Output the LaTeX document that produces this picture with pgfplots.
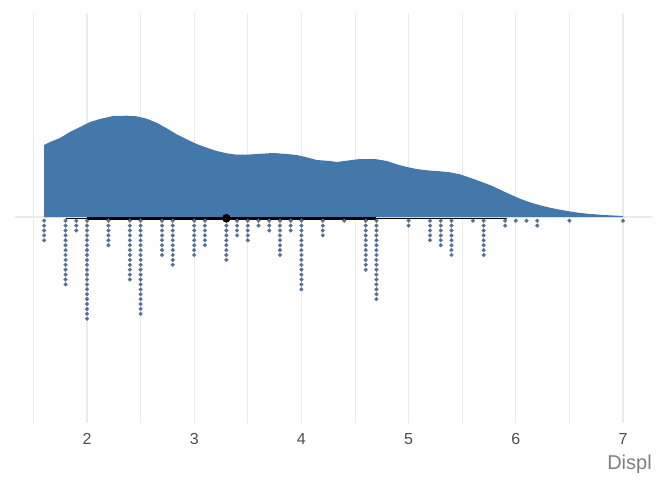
\documentclass[border=0pt]{standalone}
\usepackage{pgfplots}
\pgfplotsset{compat=1.18}
\usepackage{fontspec}
\setmainfont{Liberation Sans}
\definecolor{dens}{RGB}{68,119,170}
\definecolor{dotfill}{RGB}{72,112,160}
\definecolor{dotedge}{RGB}{105,118,138}
\definecolor{gridc}{RGB}{235,235,235}
\definecolor{tickc}{RGB}{77,77,77}
\definecolor{labc}{RGB}{127,127,127}
\begin{document}
\begin{tikzpicture}
\path[use as bounding box] (0,0) rectangle (504pt,360pt);
\begin{axis}[
  at={(11.25pt,42.75pt)}, anchor=south west,
  scale only axis, width=477.75pt, height=307.5pt,
  xmin=1.3284, xmax=7.2705, ymin=-206, ymax=204,
  axis line style={draw=none},
  major tick length=0pt, minor tick length=0pt,
  xtick={2,3,4,5,6,7},
  minor xtick={1.5,2.5,3.5,4.5,5.5,6.5},
  ytick={0}, yticklabels={},
  xmajorgrids, xminorgrids, ymajorgrids,
  major grid style={gridc, line width=0.8pt},
  minor grid style={gridc, line width=0.6pt},
  /pgf/number format/assume math mode=true,
  xticklabel style={font=\fontsize{12}{14}\selectfont, text=tickc, anchor=north, inner sep=0pt, yshift=-7.7pt},
  xlabel={Displ},
  xlabel style={at={(rel axis cs:1,0)}, anchor=north east, inner sep=0pt, yshift=-24pt, font=\fontsize{15}{18}\selectfont, text=labc},
  clip=false,
]
\addplot[fill=dens, draw=none] coordinates {
(1.6,0) (1.6,72) (1.655,75) (1.748,79) (1.841,85) (1.935,90) (2.028,95) (2.121,98)
(2.245,101) (2.37,101.3) (2.464,100.7) (2.557,98.3) (2.65,94.3) (2.743,88.7) (2.837,82.7)
(2.93,77.7) (3.023,73) (3.117,69.3) (3.21,66) (3.303,63.7) (3.396,62.3) (3.49,62.3)
(3.583,63) (3.738,64) (3.863,63) (3.956,62) (4.049,59.7) (4.143,57) (4.267,56) (4.329,55)
(4.423,56.3) (4.547,58) (4.687,58) (4.796,56) (4.89,52.7) (4.983,50) (5.076,48) (5.169,46.7)
(5.293,45.7) (5.386,44.7) (5.479,42.7) (5.573,39.3) (5.666,35.7) (5.759,32) (5.853,27.3)
(5.946,22.7) (6.039,18.3) (6.132,14.7) (6.226,11.7) (6.319,9.3) (6.412,7.3) (6.536,5)
(6.661,3.3) (6.816,2) (6.971,1.2) (7.0,1.2) (7.0,0)} \closedcycle;
\addplot[only marks, mark=*, mark size=1.4pt, mark options={fill=dotfill, draw=dotedge, line width=0.3pt}]
table[row sep=\\, x=x, y expr=-3.7-4.9*\thisrow{k}] {
x k\\
1.6 0\\ 1.6 1\\ 1.6 2\\ 1.6 3\\ 1.6 4\\
1.8 0\\ 1.8 1\\ 1.8 2\\ 1.8 3\\ 1.8 4\\ 1.8 5\\ 1.8 6\\ 1.8 7\\ 1.8 8\\ 1.8 9\\ 1.8 10\\ 1.8 11\\ 1.8 12\\ 1.8 13\\
1.9 0\\ 1.9 1\\ 1.9 2\\
2.0 0\\ 2.0 1\\ 2.0 2\\ 2.0 3\\ 2.0 4\\ 2.0 5\\ 2.0 6\\ 2.0 7\\ 2.0 8\\ 2.0 9\\ 2.0 10\\ 2.0 11\\ 2.0 12\\ 2.0 13\\ 2.0 14\\ 2.0 15\\ 2.0 16\\ 2.0 17\\ 2.0 18\\ 2.0 19\\ 2.0 20\\
2.2 0\\ 2.2 1\\ 2.2 2\\ 2.2 3\\ 2.2 4\\ 2.2 5\\
2.4 0\\ 2.4 1\\ 2.4 2\\ 2.4 3\\ 2.4 4\\ 2.4 5\\ 2.4 6\\ 2.4 7\\ 2.4 8\\ 2.4 9\\ 2.4 10\\ 2.4 11\\ 2.4 12\\
2.5 0\\ 2.5 1\\ 2.5 2\\ 2.5 3\\ 2.5 4\\ 2.5 5\\ 2.5 6\\ 2.5 7\\ 2.5 8\\ 2.5 9\\ 2.5 10\\ 2.5 11\\ 2.5 12\\ 2.5 13\\ 2.5 14\\ 2.5 15\\ 2.5 16\\ 2.5 17\\ 2.5 18\\ 2.5 19\\
2.7 0\\ 2.7 1\\ 2.7 2\\ 2.7 3\\ 2.7 4\\ 2.7 5\\ 2.7 6\\ 2.7 7\\
2.8 0\\ 2.8 1\\ 2.8 2\\ 2.8 3\\ 2.8 4\\ 2.8 5\\ 2.8 6\\ 2.8 7\\ 2.8 8\\ 2.8 9\\
3.0 0\\ 3.0 1\\ 3.0 2\\ 3.0 3\\ 3.0 4\\ 3.0 5\\ 3.0 6\\ 3.0 7\\
3.1 0\\ 3.1 1\\ 3.1 2\\ 3.1 3\\ 3.1 4\\ 3.1 5\\
3.3 0\\ 3.3 1\\ 3.3 2\\ 3.3 3\\ 3.3 4\\ 3.3 5\\ 3.3 6\\ 3.3 7\\ 3.3 8\\
3.4 0\\ 3.4 1\\ 3.4 2\\ 3.4 3\\
3.5 0\\ 3.5 1\\ 3.5 2\\ 3.5 3\\ 3.5 4\\
3.6 0\\ 3.6 1\\
3.7 0\\ 3.7 1\\ 3.7 2\\
3.8 0\\ 3.8 1\\ 3.8 2\\ 3.8 3\\ 3.8 4\\ 3.8 5\\ 3.8 6\\ 3.8 7\\
3.9 0\\ 3.9 1\\ 3.9 2\\
4.0 0\\ 4.0 1\\ 4.0 2\\ 4.0 3\\ 4.0 4\\ 4.0 5\\ 4.0 6\\ 4.0 7\\ 4.0 8\\ 4.0 9\\ 4.0 10\\ 4.0 11\\ 4.0 12\\ 4.0 13\\ 4.0 14\\
4.2 0\\ 4.2 1\\ 4.2 2\\ 4.2 3\\
4.4 0\\
4.6 0\\ 4.6 1\\ 4.6 2\\ 4.6 3\\ 4.6 4\\ 4.6 5\\ 4.6 6\\ 4.6 7\\ 4.6 8\\ 4.6 9\\ 4.6 10\\
4.7 0\\ 4.7 1\\ 4.7 2\\ 4.7 3\\ 4.7 4\\ 4.7 5\\ 4.7 6\\ 4.7 7\\ 4.7 8\\ 4.7 9\\ 4.7 10\\ 4.7 11\\ 4.7 12\\ 4.7 13\\ 4.7 14\\ 4.7 15\\ 4.7 16\\
5.0 0\\ 5.0 1\\
5.2 0\\ 5.2 1\\ 5.2 2\\ 5.2 3\\ 5.2 4\\
5.3 0\\ 5.3 1\\ 5.3 2\\ 5.3 3\\ 5.3 4\\ 5.3 5\\
5.4 0\\ 5.4 1\\ 5.4 2\\ 5.4 3\\ 5.4 4\\ 5.4 5\\ 5.4 6\\ 5.4 7\\
5.6 0\\
5.7 0\\ 5.7 1\\ 5.7 2\\ 5.7 3\\ 5.7 4\\ 5.7 5\\ 5.7 6\\ 5.7 7\\
5.9 0\\ 5.9 1\\
6.0 0\\
6.1 0\\
6.2 0\\ 6.2 1\\
6.5 0\\
7.0 0\\
};
\addplot[black, line width=0.9pt] coordinates {(1.8,-1.3) (5.915,-1.3)};
\addplot[black, line width=2.4pt] coordinates {(2.0,-1.3) (4.7,-1.3)};
\addplot[only marks, mark=*, mark size=3pt, black] coordinates {(3.3,-1.3)};
\end{axis}
\end{tikzpicture}
\end{document}
